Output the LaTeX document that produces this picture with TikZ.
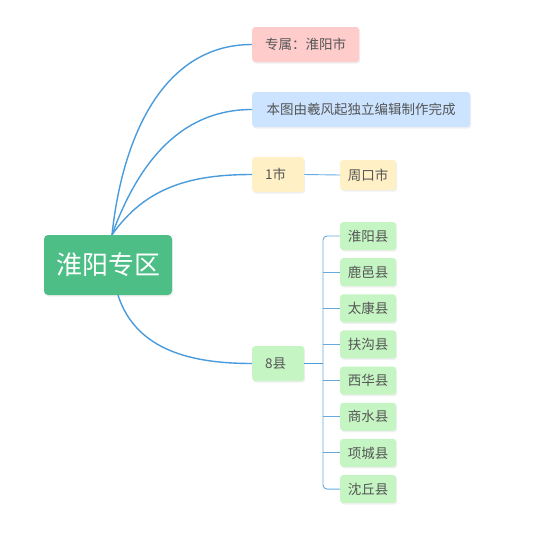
\documentclass[tikz,border=0pt]{standalone}
\usepackage{fontspec}
\setmainfont{Noto Sans CJK SC}
\usetikzlibrary{positioning,calc,shadows}
\definecolor{rootgreen}{HTML}{4DBE86}
\definecolor{linkblue}{HTML}{4A9BDB}
\definecolor{txtgray}{HTML}{555555}
\definecolor{pinkbox}{HTML}{FFCCCC}
\definecolor{bluebox}{HTML}{CCE4FF}
\definecolor{yellowbox}{HTML}{FFF0C6}
\definecolor{greenbox}{HTML}{C6F5C4}
\tikzset{topic/.style={rounded corners=3pt,align=center,minimum height=35pt,inner xsep=13pt,text=txtgray,
    font=\fontsize{13.5}{16}\selectfont,drop shadow={opacity=0.12,shadow xshift=1pt,shadow yshift=-1.5pt}},
  short/.style={topic,text width=26pt,align=left},
  sub/.style={topic,minimum height=28pt,minimum width=56pt,inner xsep=6pt},
  link/.style={linkblue,line width=1.4pt},
  thinlink/.style={linkblue!85,line width=0.9pt}}
\begin{document}
\begin{tikzpicture}[x=1pt,y=-1pt]
\useasboundingbox (0,0) rectangle (543,533);
\node[fill=rootgreen,text=white,rounded corners=4pt,minimum width=128pt,minimum height=60pt,
  font=\fontsize{26}{30}\selectfont,drop shadow={opacity=0.12,shadow xshift=1pt,shadow yshift=-1.5pt}] (root) at (108,265) {淮阳专区};
\node[topic,fill=pinkbox,anchor=west] (owner) at (252,44.5) {专属：淮阳市};
\node[topic,fill=bluebox,anchor=west,minimum width=218pt] (credit) at (252,109.5) {本图由羲风起独立编辑制作完成};
\node[short,fill=yellowbox,anchor=west] (city) at (252,174.5) {1市};
\node[sub,fill=yellowbox,anchor=west,minimum height=30pt] (zhoukou) at (340,175) {周口市};
\node[short,fill=greenbox,anchor=west] (county) at (252,363.5) {8县};
\foreach \name [count=\i] in {淮阳县,鹿邑县,太康县,扶沟县,西华县,商水县,项城县,沈丘县}
  \node[sub,fill=greenbox,anchor=west] (c\i) at (340,{236+36.15*(\i-1)}) {\name};
\coordinate (bar) at (323,0);
% branches from the root
\draw[link] ([xshift=4pt]root.north) to[out=84,in=180] (owner.west);
\draw[link] ([xshift=4pt]root.north) to[out=70,in=180] (credit.west);
\draw[link] ([xshift=4pt]root.north) to[out=55,in=180] (city.west);
\draw[link] ([xshift=10pt]root.south) to[out=-72,in=180] (county.west);
% sub branches
\draw[thinlink] (city.east) -- (zhoukou.west);
\draw[link] (county.east) -- (county.east -| bar);
\draw[thinlink,rounded corners=4pt] (c1.west) -- (c1.west -| bar) -- (c8.west -| bar) -- (c8.west);
\foreach \i in {2,...,7}
  \draw[thinlink] (c\i.west -| bar) -- (c\i.west);
\end{tikzpicture}
\end{document}
